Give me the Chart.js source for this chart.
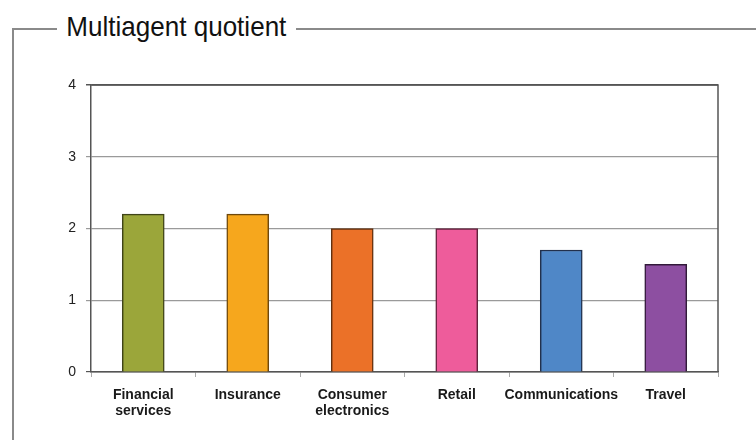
<!DOCTYPE html>
<html>
<head>
<meta charset="utf-8">
<script src="https://cdn.jsdelivr.net/npm/chart.js@4"></script>
<style>
  html, body { margin: 0; padding: 0; background: #fff; }
  #wrap { position: relative; width: 756px; height: 440px; overflow: hidden; }
  #frame {
    position: absolute; left: 12px; top: 28px; width: 760px; height: 430px;
    border-left: 2px solid #8a8a8a; border-top: 2px solid #8a8a8a;
  }
  #titulo {
    position: absolute; left: 57px; top: 10px; padding: 0 10px; background: #fff;
    font-family: "Liberation Sans", Arial, sans-serif;
    font-size: 28px; color: #111; line-height: 34px;
    transform: scaleX(0.93); transform-origin: left center;
  }
  canvas { position: absolute; left: 0; top: 0; }
</style>
</head>
<body>
<div id="wrap">
  <div id="frame"></div>
  <div id="titulo">Multiagent quotient</div>
  <canvas id="chart-quotient" width="756" height="440"></canvas>
</div>
<script>
// datos
const categorias = [['Financial', 'services'], 'Insurance', ['Consumer', 'electronics'], 'Retail', 'Communications', 'Travel'];
const valores = [2.2, 2.2, 2.0, 2.0, 1.7, 1.5];
const colores = ['#9ba63a', '#f6a71d', '#eb7128', '#ee5c9b', '#4f87c7', '#8d4fa1'];
const bordes = ['#3f4418', '#6e480c', '#62300f', '#62223d', '#22304c', '#321a3a'];
const ticksY = [0, 1, 2, 3, 4];

const fuente = "'Liberation Sans', Arial, sans-serif";

// marco del area de trazado (arriba y derecha)
const marcoPlugin = {
    id: 'marco',
    afterDraw(chart) {
        const a = chart.chartArea;
        const ctx = chart.ctx;
        ctx.save();
        ctx.strokeStyle = '#555';
        ctx.lineWidth = 1.5;
        ctx.beginPath();
        ctx.moveTo(a.left, a.top);
        ctx.lineTo(a.right, a.top);
        ctx.lineTo(a.right, a.bottom);
        ctx.stroke();
        ctx.restore();
    }
};

new Chart(document.getElementById('chart-quotient').getContext('2d'), {
    type: 'bar',
    data: {
        labels: categorias,
        datasets: [{
            data: valores,
            backgroundColor: colores,
            borderColor: bordes,
            borderWidth: 1.5,
            borderSkipped: 'bottom',
            barThickness: 42
        }]
    },
    options: {
        responsive: false,
        animation: false,
        layout: { padding: { left: 0, top: 85, right: 38, bottom: 0 } },
        plugins: { legend: { display: false }, tooltip: { enabled: false } },
        scales: {
            x: {
                grid: { offset: true, drawOnChartArea: false, tickLength: 5, color: '#aaa' },
                border: { color: '#555', width: 1.5 },
                ticks: {
                    color: '#1a1a1a', padding: 10,
                    font: { family: fuente, size: 14, weight: 'bold', lineHeight: 1.15 },
                    maxRotation: 0, autoSkip: false
                },
                afterFit: (scale) => { scale.height = 68; }
            },
            y: {
                min: 0, max: 4,
                afterBuildTicks: (scale) => { scale.ticks = ticksY.map(v => ({ value: v })); },
                grid: {
                    tickLength: 5,
                    color: (c) => (c.tick && (c.tick.value === 4 || c.tick.value === 0)) ? '#555' : '#9a9a9a',
                    lineWidth: (c) => (c.tick && c.tick.value === 4) ? 1.5 : 1.2
                },
                border: { color: '#555', width: 1.5 },
                ticks: {
                    color: '#222', padding: 10,
                    font: { family: fuente, size: 14 }
                },
                afterFit: (scale) => { scale.width = 91; }
            }
        }
    },
    plugins: [marcoPlugin]
});
</script>
</body>
</html>
